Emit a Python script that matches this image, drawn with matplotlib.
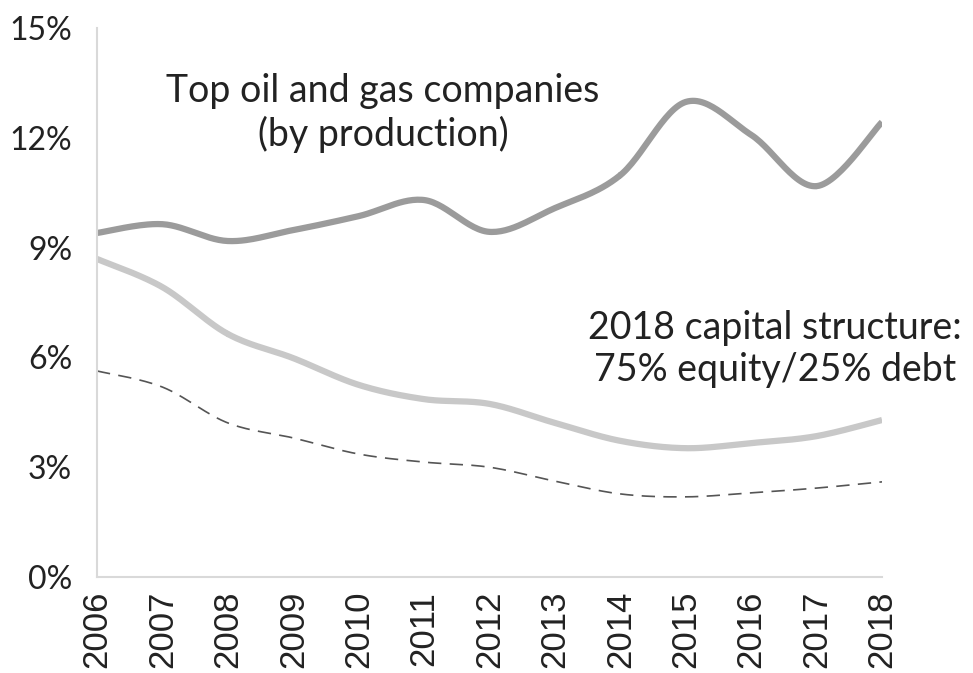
import numpy as np
import matplotlib
matplotlib.use("Agg")
import matplotlib.pyplot as plt
from matplotlib.ticker import FuncFormatter

years = list(range(2006, 2019))
top_companies = [9.40, 9.64, 9.18, 9.48, 9.86, 10.30, 9.43, 10.08, 10.98, 12.98, 12.08, 10.68, 12.43]
light_series = [8.69, 7.92, 6.64, 5.98, 5.25, 4.86, 4.73, 4.21, 3.72, 3.52, 3.66, 3.85, 4.29]
dashed_series = [5.63, 5.19, 4.21, 3.80, 3.36, 3.14, 3.00, 2.62, 2.27, 2.19, 2.30, 2.43, 2.60]
y_ticks = [0, 3, 6, 9, 12, 15]


def smooth(x, y, n=30):
    """Catmull-Rom spline through the points, like Excel's smoothed line"""
    x = np.asarray(x, float)
    y = np.asarray(y, float)
    px = np.concatenate([[x[0]], x, [x[-1]]])
    py = np.concatenate([[y[0]], y, [y[-1]]])
    xs, ys = [], []
    t = np.linspace(0, 1, n)
    for i in range(1, len(px) - 2):
        for p, out in ((px, xs), (py, ys)):
            p0, p1, p2, p3 = p[i - 1], p[i], p[i + 1], p[i + 2]
            out.extend(0.5 * (2 * p1 + (-p0 + p2) * t
                              + (2 * p0 - 5 * p1 + 4 * p2 - p3) * t ** 2
                              + (-p0 + 3 * p1 - 3 * p2 + p3) * t ** 3))
    return np.array(xs), np.array(ys)


fig = plt.figure(figsize=(9.73, 6.73), dpi=100)
ax = fig.add_axes([0.0997, 0.1426, 0.8068, 0.8158])

ax.plot(*smooth(years, light_series), color='#c8c8c8', linewidth=4.5, solid_capstyle='butt')
ax.plot(*smooth(years, dashed_series), color='#555555', linewidth=1.2, dashes=(8, 5))
ax.plot(*smooth(years, top_companies), color='#9b9b9b', linewidth=4.5, solid_capstyle='butt')

ax.set_xlim(2006, 2018)
ax.set_ylim(0, 15)
ax.set_xticks(years)
ax.set_xticklabels([str(y) for y in years], rotation=90, fontsize=25,
                   family='Liberation Sans', color='#222222')
ax.set_yticks(y_ticks)
ax.yaxis.set_major_formatter(FuncFormatter(lambda v, p: f"{v:.0f}%"))
for lbl in ax.get_yticklabels():
    lbl.set_family('Lato')
    lbl.set_fontsize(23)
    lbl.set_color('#222222')
ax.tick_params(axis='both', length=0)
ax.tick_params(axis='y', pad=18)
ax.tick_params(axis='x', pad=10)

for side in ['top', 'right']:
    ax.spines[side].set_visible(False)
for side in ['left', 'bottom']:
    ax.spines[side].set_color('#d9d9d9')
    ax.spines[side].set_linewidth(1.5)

ax.text(2010.37, 12.68, "Top oil and gas companies\n(by production)", ha='center', va='center',
        fontsize=27, family='Lato', color='#222222', linespacing=1.2)
ax.text(2016.36, 6.23, "2018 capital structure:\n75% equity/25% debt", ha='center', va='center',
        fontsize=27, family='Lato', color='#222222', linespacing=1.2, clip_on=False)

fig.savefig('out.png', dpi=100)
